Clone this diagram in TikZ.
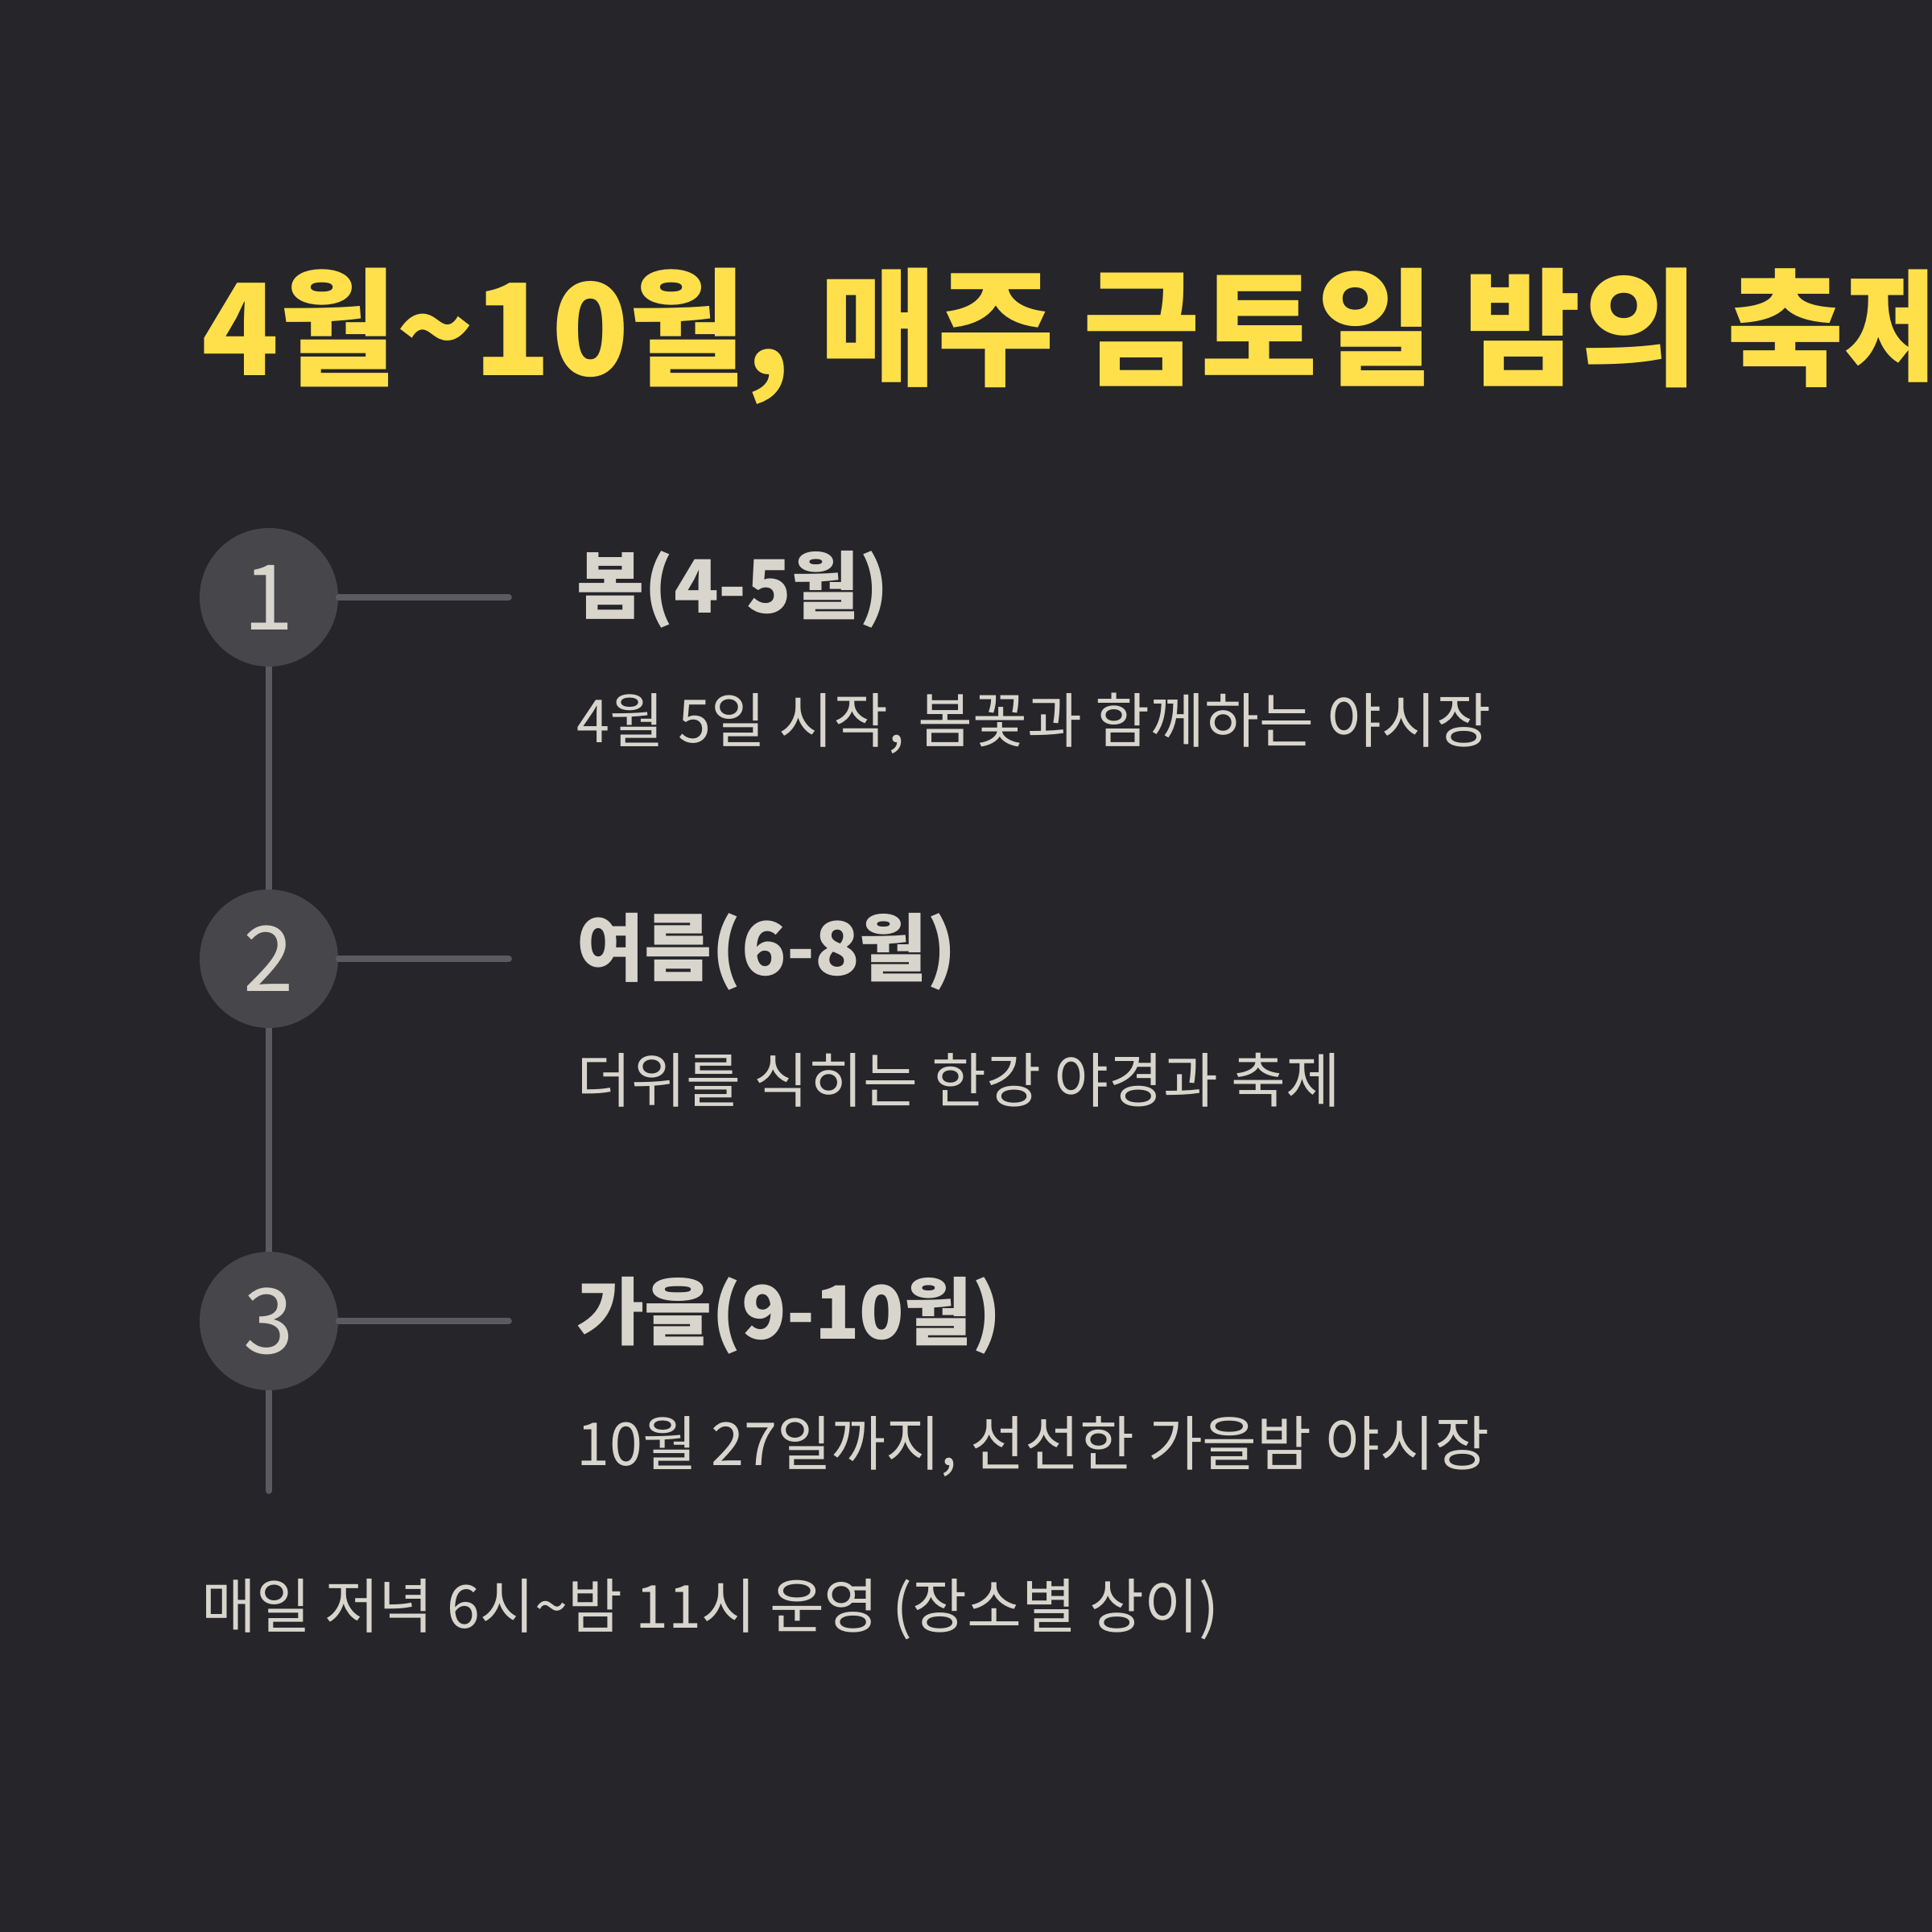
\documentclass[tikz,border=0pt]{standalone}
\usepackage{fontspec}
\setmainfont{Noto Sans CJK KR}
\usepackage{tikz}
\definecolor{Night}{HTML}{25252A}
\definecolor{Dot}{HTML}{46464B}
\definecolor{Rail}{HTML}{5A5A60}
\definecolor{Sun}{HTML}{FFE04A}
\definecolor{Paper}{HTML}{D8D5CC}
\tikzset{
  season/.style={circle,fill=Dot,minimum size=1.72cm,inner sep=0pt,text=Paper,font=\fontsize{32}{32}\selectfont},
  rail/.style={Rail,line width=2.2pt,line cap=round},
  head/.style={anchor=base west,text=Paper,font=\bfseries\fontsize{26}{26}\selectfont,inner sep=0pt},
  sub/.style={anchor=base west,text=Paper,font=\fontsize{21}{21}\selectfont,inner sep=0pt}
}
\begin{document}
\begin{tikzpicture}
% Background
\fill [Night] (0,0) rectangle (24,24);
\useasboundingbox (0,0) rectangle (24,24);
% Title
\node (title) at (2.5,19.33) [anchor=base west,inner sep=0pt,text=Sun,font=\bfseries\fontsize{45}{45}\selectfont] {4월{\textasciitilde}10월, 매주 금토일 밤의 축제};
% Timeline
\coordinate (end) at (3.34,5.48);
\draw [rail] (3.34,16.58) -- (end);
\node (s1) at (3.34,16.58) [season] {1};
\node (s2) at (3.34,12.09) [season] {2};
\node (s3) at (3.34,7.59) [season] {3};
\coordinate (t1) at (6.32,16.58);
\coordinate (t2) at (6.32,12.09);
\coordinate (t3) at (6.32,7.59);
\draw [rail] (s1) -- (t1);
\draw [rail] (s2) -- (t2);
\draw [rail] (s3) -- (t3);
% Labels
\node (h1) at (7.16,16.38) [head] {봄(4-5월)};
\node (d1) at (7.16,14.77) [sub] {4월 5일 시작, 봄꽃과 함께하는 야시장};
\node (h2) at (7.16,11.88) [head] {여름(6-8월)};
\node (d2) at (7.16,10.30) [sub] {더위를 식히는 한강 야경과 축제};
\node (h3) at (7.16,7.36) [head] {가을(9-10월)};
\node (d3) at (7.16,5.79) [sub] {10월 27일까지, 선선한 가을밤 야시장};
% Footer
\node (note) at (2.5,3.77) [sub] {매일 저녁 6시{\textasciitilde}밤 11시 운영 (장소별 상이)};
\end{tikzpicture}
\end{document}
